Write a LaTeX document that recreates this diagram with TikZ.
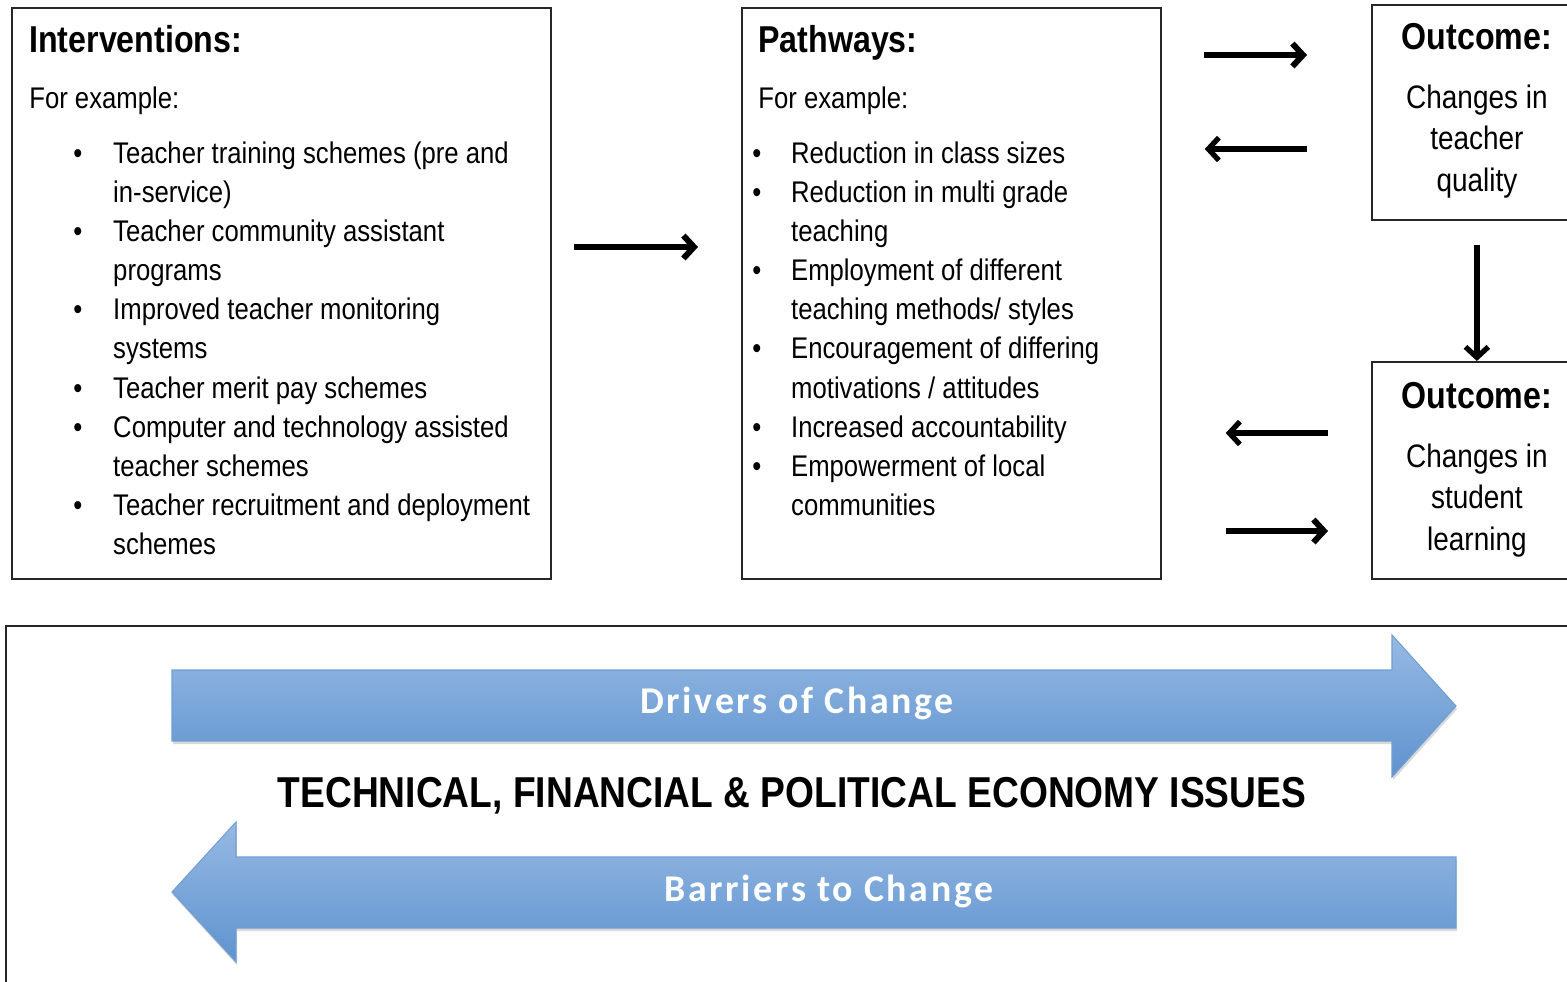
\documentclass[tikz,border=0pt]{standalone}
\usepackage{fontspec}
\setmainfont{Liberation Sans}[FakeStretch=0.86]
\newfontfamily\bannerfont{Carlito}[LetterSpace=7]
\usetikzlibrary{calc, positioning, arrows.meta, shadows}

\definecolor{banner-top}{RGB}{150,185,227}
\definecolor{banner-bottom}{RGB}{95,147,207}
\definecolor{banner-edge}{RGB}{112,158,212}

\newcommand{\pxu}{0.02cm}
\newcommand{\bulletlist}[2]{\begin{tabular}[t]{@{}p{#1}@{}l@{}}#2\end{tabular}}
\newcommand{\centrelines}[1]{\begin{tabular}[t]{@{}c@{}}#1\end{tabular}}

\tikzset{
  frame/.style={draw=black!85, line width=1pt, anchor=north west, inner sep=0pt},
  heading/.style={anchor=base west, inner sep=0pt, font=\fontsize{21.3}{25}\selectfont\bfseries},
  lead/.style={anchor=base west, inner sep=0pt, font=\fontsize{17}{22.3}\selectfont},
  items/.style={anchor=base west, inner sep=0pt, font=\fontsize{17}{22.3}\selectfont},
  outcome-title/.style={anchor=base, inner sep=0pt, font=\fontsize{21.3}{25}\selectfont\bfseries},
  outcome-text/.style={anchor=base, inner sep=0pt, font=\fontsize{18.5}{23.8}\selectfont},
  link/.style={line width=3.4pt, -{Straight Barb[length=6pt, width=13pt]}},
  link-thin/.style={link, line width=3pt},
  banner/.style={top color=banner-top, bottom color=banner-bottom, draw=banner-edge, line width=0.6pt,
    drop shadow={shadow xshift=0.6pt, shadow yshift=-1.8pt, opacity=0.3}},
  banner-text/.style={text=white, inner sep=0pt, font=\fontsize{21.5}{26}\bannerfont\bfseries},
}

\begin{document}
\begin{tikzpicture}[x=\pxu, y=-\pxu]

  \useasboundingbox (0,0) rectangle (1567,981);
  \clip (0,0) rectangle (1567,981);

  % boxes
  \node[frame, minimum width={539*\pxu}, minimum height={571*\pxu}] (int-box)  at (11, 7) {};
  \node[frame, minimum width={419*\pxu}, minimum height={571*\pxu}] (path-box) at (741, 7) {};
  \node[frame, minimum width={210*\pxu}, minimum height={215*\pxu}] (out-teacher) at (1371, 4) {};
  \node[frame, minimum width={210*\pxu}, minimum height={217*\pxu}] (out-student) at (1371, 361) {};
  \node[frame, minimum width={1620*\pxu}, minimum height={400*\pxu}] (issues-box) at (5, 625) {};

  % interventions
  \node[heading] (int-title) at ($(int-box.north west) + (18, 45)$) {Interventions:};
  \node[lead] (int-lead) at ($(int-box.north west) + (18, 101)$) {For example:};
  \node[items] (int-list) at ($(int-box.north west) + (62, 156)$) {\bulletlist{22.7pt}{%
    \textbullet & Teacher training schemes (pre and\\
     & in-service)\\
    \textbullet & Teacher community assistant\\
     & programs\\
    \textbullet & Improved teacher monitoring\\
     & systems\\
    \textbullet & Teacher merit pay schemes\\
    \textbullet & Computer and technology assisted\\
     & teacher schemes\\
    \textbullet & Teacher recruitment and deployment\\
     & schemes}};

  % pathways
  \node[heading] (path-title) at ($(path-box.north west) + (17, 45)$) {Pathways:};
  \node[lead] (path-lead) at ($(path-box.north west) + (17, 101)$) {For example:};
  \node[items] (path-list) at ($(path-box.north west) + (11, 156)$) {\bulletlist{22.1pt}{%
    \textbullet & Reduction in class sizes\\
    \textbullet & Reduction in multi grade\\
     & teaching\\
    \textbullet & Employment of different\\
     & teaching methods/ styles\\
    \textbullet & Encouragement of differing\\
     & motivations / attitudes\\
    \textbullet & Increased accountability\\
    \textbullet & Empowerment of local\\
     & communities}};

  % outcomes
  \node[outcome-title] (out-teacher-title) at ($(out-teacher.north) + (0, 45)$) {Outcome:};
  \node[outcome-text] (out-teacher-text) at ($(out-teacher.north) + (0, 104)$) {\centrelines{Changes in\\teacher\\quality}};
  \node[outcome-title] (out-student-title) at ($(out-student.north) + (0, 47)$) {Outcome:};
  \node[outcome-text] (out-student-text) at ($(out-student.north) + (0, 106)$) {\centrelines{Changes in\\student\\learning}};

  % connectors
  \draw[link] ($(int-box.north east) + (22, 240)$) to ($(path-box.north west) + (-43, 240)$);
  \draw[link] ($(path-box.north east) + (42, 48)$) to ($(out-teacher.north west) + (-64, 51)$);
  \draw[link-thin] ($(out-teacher.north west) + (-64, 145)$) to ($(path-box.north east) + (43, 142)$);
  \draw[link-thin] ($(out-teacher.south) + (0, 24)$) to (out-student.north);
  \draw[link-thin] ($(out-student.north west) + (-43, 72)$) to ($(path-box.north east) + (64, 426)$);
  \draw[link] ($(path-box.north east) + (64, 524)$) to ($(out-student.north west) + (-43, 170)$);

  % drivers and barriers
  \path[banner] (172, 670) -- (1392, 670) -- (1392, 635) -- (1456, 706) -- (1392, 777) -- (1392, 741) -- (172, 741) -- cycle;
  \path[banner] (1456, 857) -- (236, 857) -- (236, 822) -- (172, 892) -- (236, 962) -- (236, 928) -- (1456, 928) -- cycle;

  \node[banner-text] (drivers-label) at (797, 703) {Drivers of Change};
  \node[banner-text] (barriers-label) at (829, 891) {Barriers to Change};

  \node[inner sep=0pt, font=\fontsize{24.6}{28}\selectfont\bfseries] (issues-label) at (792, 796) {TECHNICAL, FINANCIAL \& POLITICAL ECONOMY ISSUES};

\end{tikzpicture}
\end{document}
